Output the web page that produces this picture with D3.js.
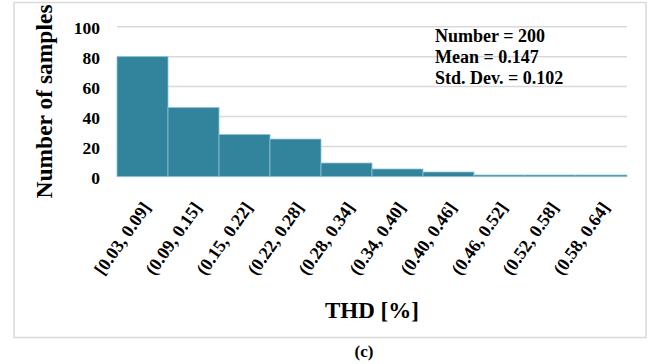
<!DOCTYPE html>
<html>
<head>
<meta charset="utf-8">
<script src="https://cdn.jsdelivr.net/npm/d3@7"></script>
<style>
  html, body { margin: 0; padding: 0; background: #fff; }
  svg { display: block; }
  text { font-family: "Liberation Serif", "Times New Roman", serif; font-weight: bold; fill: #000; }
</style>
</head>
<body>
<svg id="chart" width="656" height="364"></svg>
<script>
// THD histogram: bin labels and sample counts per bin
const bins = ["[0.03, 0.09]", "(0.09, 0.15]", "(0.15, 0.22]", "(0.22, 0.28]", "(0.28, 0.34]",
              "(0.34, 0.40]", "(0.40, 0.46]", "(0.46, 0.52]", "(0.52, 0.58]", "(0.58, 0.64]"];
const counts = [80, 46, 28, 25, 9, 5, 3, 1, 1, 1];
const yTicks = [0, 20, 40, 60, 80, 100];
const stats = ["Number = 200", "Mean = 0.147", "Std. Dev. = 0.102"];

const svg = d3.select("#chart");
const plot = { left: 117, right: 627, top: 26.7, bottom: 176.5 };

// outer frame
svg.append("rect")
  .attr("x", 14).attr("y", 2.5).attr("width", 632).attr("height", 335)
  .attr("fill", "none").attr("stroke", "#d9d9d9").attr("stroke-width", 1.5);

const x = d3.scaleBand().domain(bins).range([plot.left, plot.right]).padding(0);
const y = d3.scaleLinear().domain([0, 100]).range([plot.bottom, plot.top]);

// horizontal gridlines
svg.append("g").selectAll("line").data(yTicks).join("line")
  .attr("x1", plot.left).attr("x2", plot.right)
  .attr("y1", d => y(d)).attr("y2", d => y(d))
  .attr("stroke", "#d9d9d9").attr("stroke-width", 1.5);

// bars
svg.append("g").selectAll("rect").data(counts).join("rect")
  .attr("x", (d, i) => x(bins[i]))
  .attr("width", x.bandwidth())
  .attr("y", d => y(d))
  .attr("height", d => y(0) - y(d))
  .attr("fill", "#31849b")
  .attr("stroke", "#8cc3d1").attr("stroke-width", 0.8);

// y axis labels
const yAxis = d3.axisLeft(y).tickValues(yTicks).tickSize(0).tickPadding(0).tickFormat(d3.format("d"));
svg.append("g").attr("transform", "translate(100,1.5)").call(yAxis)
  .call(g => g.select(".domain").remove())
  .selectAll("text").style("font-size", "17.5px")
  .style("font-family", "Liberation Serif").style("font-weight", "bold");

// x axis labels, rotated
const xAxis = d3.axisBottom(x).tickSize(0).tickPadding(0);
svg.append("g").attr("transform", `translate(0,${plot.bottom})`).call(xAxis)
  .call(g => g.select(".domain").remove())
  .selectAll("text")
  .style("font-size", "18px").style("font-family", "Liberation Serif").style("font-weight", "bold")
  .attr("text-anchor", "end")
  .attr("dy", null).attr("y", 0)
  .attr("transform", "translate(9,31) rotate(-55)");

// axis titles
svg.append("text")
  .attr("transform", "translate(51.5,101.5) rotate(-90)")
  .attr("text-anchor", "middle")
  .style("font-size", "23.5px")
  .text("Number of samples");

svg.append("text")
  .attr("x", 372).attr("y", 318)
  .attr("text-anchor", "middle")
  .style("font-size", "23px")
  .text("THD [%]");

// summary statistics
svg.append("g").selectAll("text").data(stats).join("text")
  .attr("x", 435).attr("y", (d, i) => 41.5 + i * 21)
  .style("font-size", "18px")
  .text(d => d);

// panel label
svg.append("text")
  .attr("x", 364).attr("y", 357)
  .attr("text-anchor", "middle")
  .style("font-size", "17px")
  .text("(c)");
</script>
</body>
</html>
